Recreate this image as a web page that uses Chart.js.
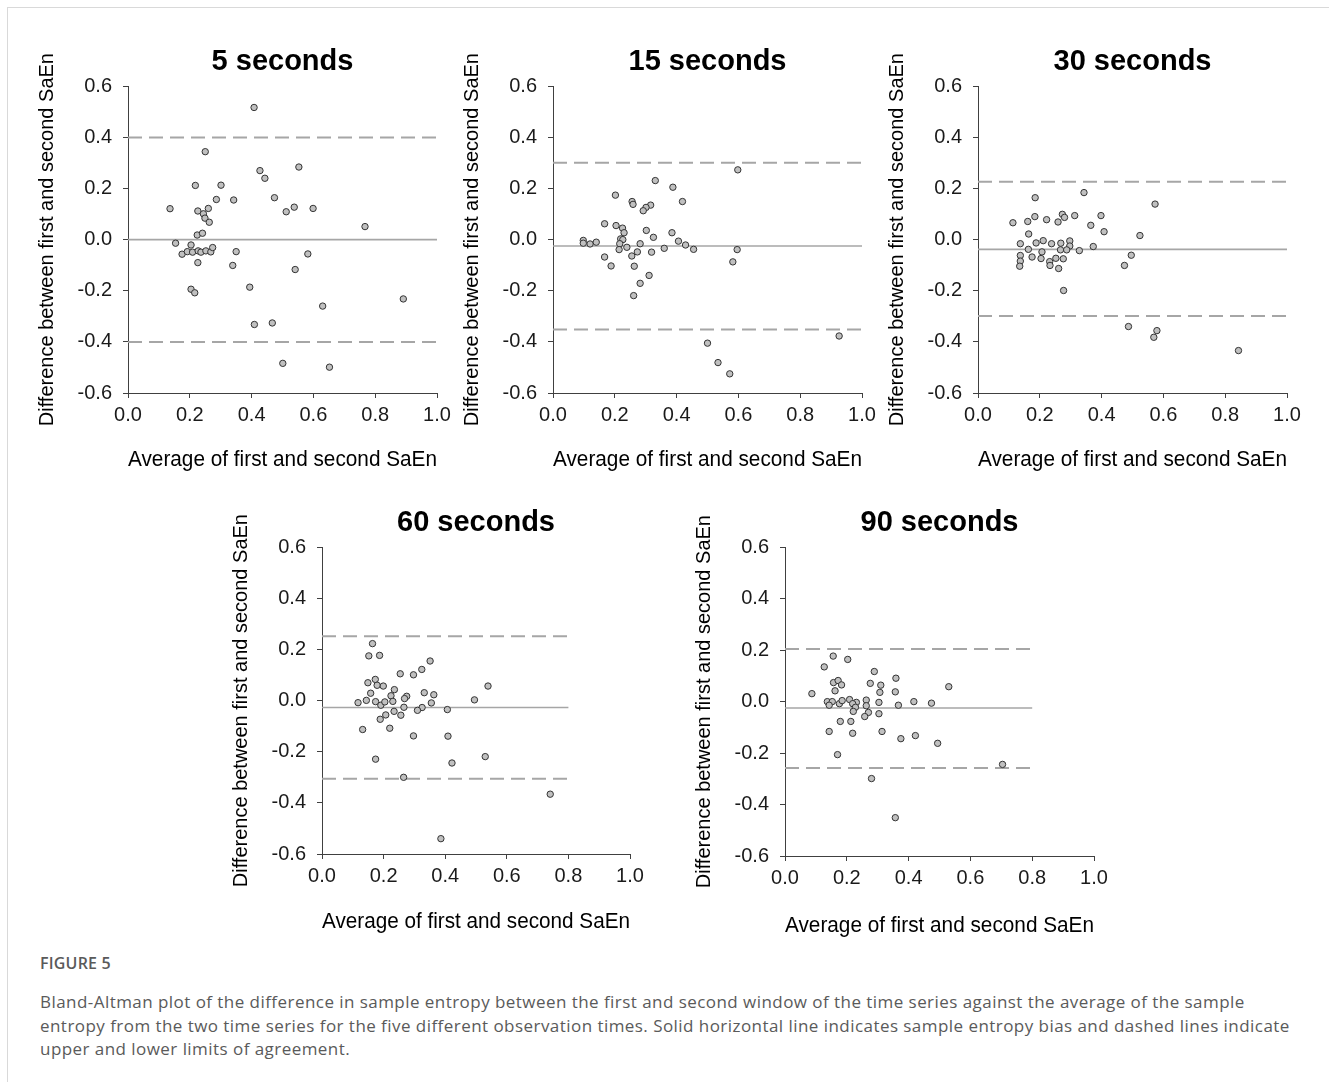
<!DOCTYPE html>
<html>
<head>
<meta charset="utf-8">
<title>Figure 5</title>
<script src="https://cdn.jsdelivr.net/npm/chart.js@4.4.1/dist/chart.umd.min.js"></script>
<style>
  body { margin:0; width:1329px; height:1082px; background:#fff; position:relative; overflow:hidden; font-family:"Open Sans", sans-serif; }
  .frame { position:absolute; left:7px; top:7px; right:-2px; bottom:-2px; border-top:1px solid #d9d9d9; border-left:1px solid #d9d9d9; }
  canvas { position:absolute; }
  .figlabel { position:absolute; left:40px; top:951px; font-size:16px; font-weight:600; color:#5a5a5a; line-height:24px; letter-spacing:0.2px; }
  .caption { position:absolute; left:40px; top:990px; font-size:17px; color:#5a5a5a; line-height:23.5px; letter-spacing:0.45px; white-space:nowrap; }
</style>
</head>
<body>
<div class="frame"></div>
<div class="figlabel">FIGURE 5</div>
<div class="caption">
  Bland-Altman plot of the difference in sample entropy between the first and second window of the time series against the average of the sample<br>
  entropy from the two time series for the five different observation times. Solid horizontal line indicates sample entropy bias and dashed lines indicate<br>
  upper and lower limits of agreement.
</div>
<script>
// panel titles
const titles = ['5 seconds', '15 seconds', '30 seconds', '60 seconds', '90 seconds'];

// points: x = average of first and second SaEn, y = difference
const sec5X = [0.408,0.250,0.427,0.553,0.443,0.218,0.301,0.286,0.342,0.474,0.136,0.226,0.260,0.244,0.249,0.263,0.512,0.538,0.599,0.767,0.224,0.241,0.154,0.204,0.175,0.192,0.209,0.227,0.236,0.252,0.268,0.274,0.226,0.350,0.339,0.582,0.541,0.394,0.204,0.216,0.630,0.891,0.409,0.467,0.501,0.652];
const sec5Y = [0.517,0.344,0.270,0.284,0.240,0.212,0.213,0.157,0.155,0.164,0.121,0.112,0.122,0.101,0.084,0.068,0.109,0.127,0.122,0.051,0.018,0.025,-0.014,-0.021,-0.057,-0.047,-0.049,-0.044,-0.049,-0.044,-0.048,-0.031,-0.090,-0.047,-0.101,-0.056,-0.117,-0.186,-0.194,-0.208,-0.260,-0.232,-0.332,-0.326,-0.484,-0.499];

const sec15X = [0.598,0.331,0.388,0.202,0.256,0.259,0.419,0.316,0.301,0.292,0.167,0.204,0.225,0.230,0.302,0.385,0.325,0.098,0.098,0.120,0.140,0.219,0.226,0.216,0.239,0.214,0.282,0.273,0.255,0.319,0.360,0.406,0.429,0.455,0.596,0.582,0.167,0.188,0.263,0.311,0.282,0.261,0.500,0.534,0.572,0.926];
const sec15Y = [0.273,0.231,0.205,0.174,0.149,0.138,0.149,0.135,0.126,0.113,0.062,0.055,0.045,0.027,0.036,0.027,0.009,-0.003,-0.014,-0.017,-0.010,0.003,0.000,-0.016,-0.030,-0.039,-0.016,-0.048,-0.064,-0.049,-0.034,-0.006,-0.021,-0.038,-0.039,-0.087,-0.068,-0.103,-0.104,-0.140,-0.171,-0.219,-0.405,-0.481,-0.525,-0.377];

const sec30X = [0.343,0.185,0.573,0.273,0.280,0.313,0.398,0.184,0.113,0.161,0.222,0.259,0.365,0.408,0.164,0.524,0.211,0.297,0.137,0.188,0.238,0.268,0.297,0.373,0.163,0.207,0.267,0.287,0.328,0.137,0.175,0.204,0.252,0.276,0.137,0.232,0.135,0.233,0.261,0.496,0.474,0.277,0.487,0.579,0.569,0.843];
const sec30Y = [0.184,0.164,0.139,0.099,0.087,0.094,0.094,0.090,0.066,0.071,0.078,0.069,0.056,0.031,0.022,0.016,-0.004,-0.005,-0.016,-0.013,-0.016,-0.014,-0.025,-0.027,-0.038,-0.048,-0.040,-0.040,-0.043,-0.062,-0.068,-0.074,-0.073,-0.075,-0.084,-0.086,-0.104,-0.101,-0.113,-0.061,-0.101,-0.199,-0.340,-0.356,-0.382,-0.434];

const sec60X = [0.164,0.152,0.187,0.351,0.324,0.254,0.297,0.149,0.173,0.179,0.199,0.539,0.235,0.158,0.224,0.275,0.268,0.332,0.363,0.117,0.144,0.174,0.191,0.204,0.230,0.495,0.266,0.355,0.325,0.310,0.234,0.407,0.207,0.256,0.189,0.132,0.220,0.297,0.409,0.174,0.422,0.530,0.265,0.741,0.386];
const sec60Y = [0.223,0.175,0.177,0.155,0.122,0.105,0.101,0.070,0.083,0.060,0.057,0.057,0.043,0.029,0.019,0.017,0.008,0.031,0.023,-0.008,0.001,-0.004,-0.018,-0.005,-0.003,0.003,-0.026,-0.009,-0.027,-0.038,-0.042,-0.035,-0.056,-0.057,-0.073,-0.113,-0.108,-0.138,-0.139,-0.229,-0.244,-0.219,-0.300,-0.366,-0.540];

const sec90X = [0.156,0.203,0.127,0.289,0.359,0.157,0.172,0.183,0.276,0.310,0.530,0.162,0.307,0.357,0.087,0.137,0.153,0.143,0.176,0.185,0.209,0.231,0.219,0.228,0.221,0.263,0.263,0.304,0.367,0.417,0.474,0.270,0.258,0.304,0.179,0.213,0.143,0.219,0.314,0.375,0.422,0.494,0.170,0.704,0.280,0.357];
const sec90Y = [0.177,0.164,0.135,0.117,0.091,0.074,0.082,0.065,0.071,0.064,0.058,0.042,0.036,0.038,0.031,0.000,0.000,-0.014,-0.008,0.004,0.008,-0.003,-0.008,-0.022,-0.038,0.006,-0.016,-0.003,-0.014,0.000,-0.006,-0.042,-0.058,-0.047,-0.077,-0.077,-0.116,-0.123,-0.116,-0.144,-0.132,-0.162,-0.206,-0.244,-0.299,-0.451];

// bias and limits of agreement per panel, and where the lines stop on x
const upperLoA = [0.400, 0.301, 0.226, 0.252, 0.205];
const biasLine = [0.000, -0.025, -0.038, -0.027, -0.025];
const lowerLoA = [-0.400, -0.352, -0.299, -0.306, -0.258];
const lineEnd  = [1.0, 1.0, 1.0, 0.8, 0.8];

const allX = [sec5X, sec15X, sec30X, sec60X, sec90X];
const allY = [sec5Y, sec15Y, sec30Y, sec60Y, sec90Y];

// where each canvas sits on the page
const boxes = [
  {left: 35,  top: 44,  w: 422, h: 429, xh: 80},
  {left: 460, top: 44,  w: 422, h: 429, xh: 80},
  {left: 885, top: 44,  w: 422, h: 429, xh: 80},
  {left: 229, top: 505, w: 421, h: 430, xh: 81},
  {left: 692, top: 505, w: 422, h: 434, xh: 83}
];

const FONT = '"Liberation Sans", Arial, sans-serif';
const AXIS = '#404040';

function fmt(v) {
  if (Math.abs(v) < 1e-9) return '0.0';
  return v.toFixed(1);
}

function hLine(y, end, dashed) {
  return {
    type: 'line',
    data: [{x: 0, y: y}, {x: end, y: y}],
    borderColor: '#a6a6a6',
    borderWidth: dashed ? 2 : 1.6,
    borderDash: dashed ? [14, 7] : [],
    pointRadius: 0,
    fill: false
  };
}

function drawPanel(i) {
  const b = boxes[i];
  const cv = document.createElement('canvas');
  cv.width = b.w;
  cv.height = b.h;
  cv.style.left = b.left + 'px';
  cv.style.top = b.top + 'px';
  document.body.appendChild(cv);

  const pts = allX[i].map((x, k) => ({x: x, y: allY[i][k]}));

  new Chart(cv, {
    type: 'scatter',
    data: {
      datasets: [
        {
          data: pts,
          pointRadius: 3.2,
          pointHoverRadius: 3.2,
          backgroundColor: '#c0c0c0',
          borderColor: '#333333',
          borderWidth: 1
        },
        hLine(upperLoA[i], lineEnd[i], true),
        hLine(biasLine[i], lineEnd[i], false),
        hLine(lowerLoA[i], lineEnd[i], true)
      ]
    },
    options: {
      responsive: false,
      animation: false,
      devicePixelRatio: 1,
      layout: { padding: {left: 0, top: 0, right: 20, bottom: 0} },
      plugins: {
        legend: { display: false },
        tooltip: { enabled: false },
        title: {
          display: true,
          text: titles[i],
          fullSize: false,
          color: '#000',
          font: { family: FONT, size: 29, weight: 'bold', lineHeight: 1.25 },
          padding: { top: 0, bottom: 6 }
        }
      },
      scales: {
        x: {
          type: 'linear',
          min: 0,
          max: 1,
          afterFit: s => { s.height = b.xh; },
          ticks: { stepSize: 0.2, padding: 5, color: '#1a1a1a', font: { family: FONT, size: 20 }, callback: v => fmt(v) },
          grid: { drawOnChartArea: false, drawTicks: true, tickLength: 5, tickColor: AXIS },
          border: { display: true, color: AXIS, width: 1 },
          title: { display: true, text: 'Average of first and second SaEn', color: '#000', font: { family: FONT, size: 21.5 }, padding: {top: 0, bottom: 0} }
        },
        y: {
          type: 'linear',
          min: -0.6,
          max: 0.6,
          afterFit: s => { s.width = 93; },
          ticks: { stepSize: 0.2, padding: 11, color: '#1a1a1a', font: { family: FONT, size: 20 }, callback: v => fmt(v) },
          grid: { drawOnChartArea: false, drawTicks: true, tickLength: 5, tickColor: AXIS },
          border: { display: true, color: AXIS, width: 1 },
          title: { display: true, text: 'Difference between first and second SaEn', color: '#000', font: { family: FONT, size: 20 }, padding: {top: 0, bottom: 0} }
        }
      }
    }
  });
}

for (let i = 0; i < titles.length; i++) {
  drawPanel(i);
}
</script>
</body>
</html>
